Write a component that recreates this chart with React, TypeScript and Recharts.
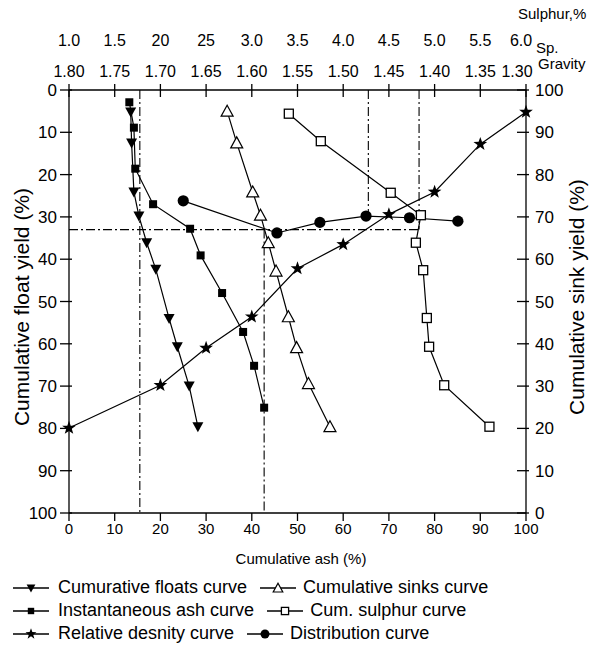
import { ComposedChart, ReferenceLine, Scatter, XAxis, YAxis } from "recharts";

const ashTicks = [0, 10, 20, 30, 40, 50, 60, 70, 80, 90, 100];
const yieldTicks = [0, 10, 20, 30, 40, 50, 60, 70, 80, 90, 100];
const gravityTicks = [1.8, 1.75, 1.7, 1.65, 1.6, 1.55, 1.5, 1.45, 1.4, 1.35, 1.3];
const sulphurLabels = ["1.0", "1.5", "20", "25", "3.0", "3.5", "4.0", "4.5", "5.0", "5.5", "6.0"];

// x = cumulative ash (%), y = float yield (left) or sink yield (right)
const floatsCurve = [
  { x: 13.5, y: 5.2 }, { x: 13.7, y: 12.5 }, { x: 14.2, y: 24.1 }, { x: 15.3, y: 29.8 },
  { x: 17.0, y: 36.1 }, { x: 19.0, y: 42.4 }, { x: 21.9, y: 54.0 }, { x: 23.7, y: 60.7 },
  { x: 26.3, y: 70.0 }, { x: 28.2, y: 79.6 },
];
const instantAshCurve = [
  { x: 13.2, y: 2.9 }, { x: 14.2, y: 8.9 }, { x: 14.5, y: 18.6 }, { x: 18.4, y: 27.0 },
  { x: 26.5, y: 32.8 }, { x: 28.8, y: 39.1 }, { x: 33.5, y: 48.0 }, { x: 38.1, y: 57.2 },
  { x: 40.5, y: 65.2 }, { x: 42.7, y: 75.1 },
];
const sinksCurve = [
  { x: 34.6, y: 95.0 }, { x: 36.7, y: 87.5 }, { x: 40.2, y: 75.9 }, { x: 41.9, y: 70.4 },
  { x: 43.6, y: 63.9 }, { x: 45.3, y: 57.2 }, { x: 48.0, y: 46.4 }, { x: 49.8, y: 39.1 },
  { x: 52.4, y: 30.6 }, { x: 57.1, y: 20.4 },
];
const sulphurCurve = [
  { x: 48.1, y: 94.4 }, { x: 55.1, y: 87.9 }, { x: 70.4, y: 75.7 }, { x: 77.0, y: 70.4 },
  { x: 75.9, y: 63.9 }, { x: 77.5, y: 57.4 }, { x: 78.3, y: 46.1 }, { x: 78.8, y: 39.3 },
  { x: 82.1, y: 30.2 }, { x: 92.0, y: 20.4 },
];
// x = specific gravity (top axis)
const densityCurve = [
  { x: 1.8, y: 79.9 }, { x: 1.7, y: 69.8 }, { x: 1.65, y: 61.0 }, { x: 1.6, y: 53.6 },
  { x: 1.55, y: 42.2 }, { x: 1.5, y: 36.5 }, { x: 1.45, y: 29.4 }, { x: 1.4, y: 24.1 },
  { x: 1.35, y: 12.8 }, { x: 1.3, y: 5.2 },
];
const distributionCurve = [
  { x: 25.0, y: 26.2 }, { x: 45.5, y: 33.8 }, { x: 54.9, y: 31.3 },
  { x: 65.0, y: 29.8 }, { x: 74.5, y: 30.2 }, { x: 85.1, y: 31.0 },
];
// dash-dot guide lines, in ash / left-axis units
const guideLines = [
  [{ x: 0, y: 33 }, { x: 76.6, y: 33 }],
  [{ x: 15.5, y: 0 }, { x: 15.5, y: 100 }],
  [{ x: 42.7, y: 33 }, { x: 42.7, y: 100 }],
  [{ x: 65.5, y: 0 }, { x: 65.5, y: 29.8 }],
  [{ x: 76.6, y: 0 }, { x: 76.6, y: 33 }],
];

const FONT = '"Liberation Sans", Arial, sans-serif';
const INK = "#000";
const lineStyle = { stroke: INK, strokeWidth: 1.2 };

type MarkerKind = "triDown" | "triUp" | "square" | "openSquare" | "star" | "circle";

function Marker({ kind, cx, cy, s = 1 }: { kind: MarkerKind; cx: number; cy: number; s?: number }) {
  switch (kind) {
    case "triDown":
      return <polygon points={`${cx - 5.5 * s},${cy - 4.5 * s} ${cx + 5.5 * s},${cy - 4.5 * s} ${cx},${cy + 5.5 * s}`} fill={INK} />;
    case "triUp":
      return <polygon points={`${cx - 6 * s},${cy + 5 * s} ${cx + 6 * s},${cy + 5 * s} ${cx},${cy - 6 * s}`} fill="#fff" stroke={INK} strokeWidth={1.2} />;
    case "square":
      return <rect x={cx - 4 * s} y={cy - 4 * s} width={8 * s} height={8 * s} fill={INK} />;
    case "openSquare":
      return <rect x={cx - 4.5 * s} y={cy - 4.5 * s} width={9 * s} height={9 * s} fill="#fff" stroke={INK} strokeWidth={1.3} />;
    case "star": {
      const pts: string[] = [];
      for (let i = 0; i < 10; i++) {
        const r = (i % 2 === 0 ? 7.2 : 2.9) * s;
        const a = -Math.PI / 2 + (i * Math.PI) / 5;
        pts.push(`${cx + r * Math.cos(a)},${cy + r * Math.sin(a)}`);
      }
      return <polygon points={pts.join(" ")} fill={INK} />;
    }
    default:
      return <circle cx={cx} cy={cy} r={5.6 * s} fill={INK} />;
  }
}

const shapeOf = (kind: MarkerKind) => (p: any) => <Marker kind={kind} cx={p.cx} cy={p.cy} />;

function BottomTick({ x, y, payload }: any) {
  return (
    <g>
      <line x1={x} x2={x} y1={y} y2={y + 8} stroke={INK} strokeWidth={1.3} />
      <text x={x} y={y + 21} textAnchor="middle" fontSize={15} fill={INK}>{payload.value}</text>
    </g>
  );
}

function TopTick({ x, y, payload }: any) {
  const i = gravityTicks.indexOf(payload.value);
  const last = i === gravityTicks.length - 1;
  return (
    <g>
      <line x1={x} x2={x} y1={y - 6} y2={y + 7} stroke={INK} strokeWidth={1.3} />
      <text x={last ? x - 5 : x} y={y - 44} textAnchor="middle" fontSize={16} fill={INK}>{sulphurLabels[i]}</text>
      <text x={last ? x - 9 : x} y={y - 13} textAnchor="middle" fontSize={16} fill={INK}>{Number(payload.value).toFixed(2)}</text>
    </g>
  );
}

function LeftTick({ x, y, payload }: any) {
  return (
    <g>
      <line x1={x - 9} x2={x + 3} y1={y} y2={y} stroke={INK} strokeWidth={1.3} />
      <text x={x - 12} y={y + 6} textAnchor="end" fontSize={17} fill={INK}>{payload.value}</text>
    </g>
  );
}

function RightTick({ x, y, payload }: any) {
  return (
    <g>
      <line x1={x - 9} x2={x + 3} y1={y} y2={y} stroke={INK} strokeWidth={1.3} />
      <text x={x + 9} y={y + 6} textAnchor="start" fontSize={17} fill={INK}>{payload.value}</text>
    </g>
  );
}

const legendRows: [MarkerKind, string, MarkerKind, string][] = [
  ["triDown", "Cumurative floats curve", "triUp", "Cumulative sinks curve"],
  ["square", "Instantaneous ash curve", "openSquare", "Cum. sulphur curve"],
  ["star", "Relative desnity curve", "circle", "Distribution curve"],
];

function LegendKey({ kind }: { kind: MarkerKind }) {
  return (
    <svg width={36} height={16} style={{ display: "block", flex: "none" }}>
      <line x1={0} x2={36} y1={8} y2={8} stroke={INK} strokeWidth={1.3} />
      <Marker kind={kind} cx={18} cy={8} s={0.8} />
    </svg>
  );
}

export default function App() {
  const axisLine = { stroke: INK, strokeWidth: 1.3 };
  return (
    <div style={{ position: "absolute", left: 0, top: 0, width: 596, height: 645, background: "#fff", fontFamily: FONT, color: INK }}>
      <ComposedChart width={596} height={645} margin={{ top: 0, right: 0, bottom: 82, left: 0 }}>
        <XAxis xAxisId="bottom" dataKey="x" type="number" domain={[0, 100]} ticks={ashTicks}
          height={50} axisLine={axisLine} tickLine={false} tickSize={0} tickMargin={0} tick={<BottomTick />} interval={0} />
        <XAxis xAxisId="top" orientation="top" dataKey="x" type="number" domain={[1.3, 1.8]} reversed ticks={gravityTicks}
          height={90} axisLine={axisLine} tickLine={false} tickSize={0} tickMargin={0} tick={<TopTick />} interval={0} />
        <YAxis yAxisId="left" dataKey="y" type="number" domain={[0, 100]} reversed ticks={yieldTicks}
          width={69} axisLine={axisLine} tickLine={false} tickSize={0} tickMargin={0} tick={<LeftTick />} interval={0} />
        <YAxis yAxisId="right" orientation="right" dataKey="y" type="number" domain={[0, 100]} ticks={yieldTicks}
          width={70} axisLine={axisLine} tickLine={false} tickSize={0} tickMargin={0} tick={<RightTick />} interval={0} />

        {guideLines.map((seg, i) => (
          <ReferenceLine key={i} xAxisId="bottom" yAxisId="left" segment={seg}
            stroke={INK} strokeWidth={1.1} strokeDasharray="9 3 2 3" />
        ))}

        <Scatter name="Cumurative floats curve" data={floatsCurve} xAxisId="bottom" yAxisId="left"
          line={lineStyle} shape={shapeOf("triDown")} isAnimationActive={false} />
        <Scatter name="Instantaneous ash curve" data={instantAshCurve} xAxisId="bottom" yAxisId="left"
          line={lineStyle} shape={shapeOf("square")} isAnimationActive={false} />
        <Scatter name="Relative desnity curve" data={densityCurve} xAxisId="top" yAxisId="left"
          line={lineStyle} shape={shapeOf("star")} isAnimationActive={false} />
        <Scatter name="Distribution curve" data={distributionCurve} xAxisId="bottom" yAxisId="left"
          line={lineStyle} shape={shapeOf("circle")} isAnimationActive={false} />
        <Scatter name="Cumulative sinks curve" data={sinksCurve} xAxisId="bottom" yAxisId="right"
          line={lineStyle} shape={shapeOf("triUp")} isAnimationActive={false} />
        <Scatter name="Cum. sulphur curve" data={sulphurCurve} xAxisId="bottom" yAxisId="right"
          line={lineStyle} shape={shapeOf("openSquare")} isAnimationActive={false} />
      </ComposedChart>

      <div style={{ position: "absolute", left: 518, top: 5, fontSize: 15, lineHeight: "18px" }}>Sulphur,%</div>
      <div style={{ position: "absolute", left: 536, top: 40, fontSize: 15, lineHeight: "16px" }}>Sp.</div>
      <div style={{ position: "absolute", left: 538, top: 56, fontSize: 15, lineHeight: "16px" }}>Gravity</div>

      <div style={{ position: "absolute", left: 22, top: 307, fontSize: 21, whiteSpace: "nowrap", transform: "translate(-50%, -50%) rotate(-90deg)" }}>
        Cumulative float yield (%)
      </div>
      <div style={{ position: "absolute", left: 577, top: 297, fontSize: 21, whiteSpace: "nowrap", transform: "translate(-50%, -50%) rotate(-90deg)" }}>
        Cumulative sink yield (%)
      </div>
      <div style={{ position: "absolute", left: 301, top: 558, fontSize: 15, whiteSpace: "nowrap", transform: "translate(-50%, -50%)" }}>
        Cumulative ash (%)
      </div>

      <div style={{ position: "absolute", left: 13, top: 576, fontSize: 18, lineHeight: "23px" }}>
        {legendRows.map(([k1, t1, k2, t2]) => (
          <div key={t1} style={{ display: "flex", alignItems: "center", whiteSpace: "nowrap" }}>
            <LegendKey kind={k1} />
            <span style={{ marginLeft: 9 }}>{t1}</span>
            <span style={{ marginLeft: 13 }}><LegendKey kind={k2} /></span>
            <span style={{ marginLeft: 7 }}>{t2}</span>
          </div>
        ))}
      </div>
    </div>
  );
}
